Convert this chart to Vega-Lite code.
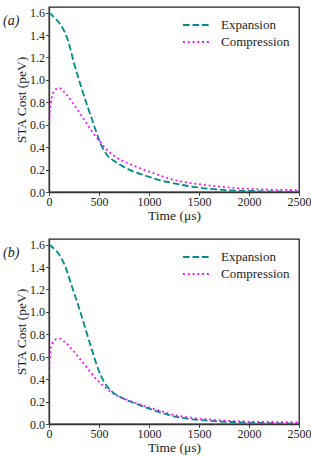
{
  "$schema": "https://vega.github.io/schema/vega-lite/v6.json",
  "padding": {"left": 2, "top": 5, "right": 1, "bottom": 2},
  "autosize": {"type": "pad"},
  "config": {
    "font": "Liberation Serif",
    "view": {"stroke": "#222", "strokeWidth": 1.3},
    "axis": {"grid": false, "domainColor": "#333", "domainWidth": 1.3, "tickColor": "#333", "tickSize": 3.5, "tickWidth": 0.9, "labelFont": "Liberation Serif", "labelFontSize": 12, "labelColor": "#222", "titleFont": "Liberation Serif", "titleFontSize": 13.5, "titleFontWeight": "normal", "titleColor": "#222", "labelPadding": 1, "labelFlush": false, "titlePadding": 1},
    "legend": {"orient": "top-right", "offset": 9, "padding": 0, "symbolType": "M-2,0H2", "symbolSize": 196, "symbolStrokeWidth": 1.8, "labelFont": "Liberation Serif", "labelFontSize": 13, "labelColor": "#222", "labelOffset": 16, "rowPadding": 2, "titleFontSize": 1, "titlePadding": 0}
  },
  "datasets": {
    "d": [
      {"panel": "a", "series": "Expansion", "t": 0, "v": 1.6},
      {"panel": "a", "series": "Expansion", "t": 50, "v": 1.56},
      {"panel": "a", "series": "Expansion", "t": 117, "v": 1.49},
      {"panel": "a", "series": "Expansion", "t": 183, "v": 1.37},
      {"panel": "a", "series": "Expansion", "t": 250, "v": 1.15},
      {"panel": "a", "series": "Expansion", "t": 317, "v": 0.95},
      {"panel": "a", "series": "Expansion", "t": 383, "v": 0.77},
      {"panel": "a", "series": "Expansion", "t": 450, "v": 0.595},
      {"panel": "a", "series": "Expansion", "t": 517, "v": 0.43},
      {"panel": "a", "series": "Expansion", "t": 583, "v": 0.327},
      {"panel": "a", "series": "Expansion", "t": 667, "v": 0.268},
      {"panel": "a", "series": "Expansion", "t": 800, "v": 0.2},
      {"panel": "a", "series": "Expansion", "t": 967, "v": 0.145},
      {"panel": "a", "series": "Expansion", "t": 1133, "v": 0.1},
      {"panel": "a", "series": "Expansion", "t": 1217, "v": 0.084},
      {"panel": "a", "series": "Expansion", "t": 1417, "v": 0.05},
      {"panel": "a", "series": "Expansion", "t": 1617, "v": 0.027},
      {"panel": "a", "series": "Expansion", "t": 1817, "v": 0.015},
      {"panel": "a", "series": "Expansion", "t": 2017, "v": 0.009},
      {"panel": "a", "series": "Expansion", "t": 2250, "v": 0.005},
      {"panel": "a", "series": "Expansion", "t": 2500, "v": 0.003},
      {"panel": "a", "series": "Compression", "t": 0, "v": 0.58},
      {"panel": "a", "series": "Compression", "t": 10, "v": 0.72},
      {"panel": "a", "series": "Compression", "t": 25, "v": 0.83},
      {"panel": "a", "series": "Compression", "t": 60, "v": 0.91},
      {"panel": "a", "series": "Compression", "t": 100, "v": 0.928},
      {"panel": "a", "series": "Compression", "t": 167, "v": 0.877},
      {"panel": "a", "series": "Compression", "t": 233, "v": 0.8},
      {"panel": "a", "series": "Compression", "t": 300, "v": 0.714},
      {"panel": "a", "series": "Compression", "t": 367, "v": 0.625},
      {"panel": "a", "series": "Compression", "t": 433, "v": 0.535},
      {"panel": "a", "series": "Compression", "t": 500, "v": 0.46},
      {"panel": "a", "series": "Compression", "t": 567, "v": 0.387},
      {"panel": "a", "series": "Compression", "t": 667, "v": 0.312},
      {"panel": "a", "series": "Compression", "t": 800, "v": 0.253},
      {"panel": "a", "series": "Compression", "t": 967, "v": 0.193},
      {"panel": "a", "series": "Compression", "t": 1133, "v": 0.14},
      {"panel": "a", "series": "Compression", "t": 1217, "v": 0.115},
      {"panel": "a", "series": "Compression", "t": 1417, "v": 0.08},
      {"panel": "a", "series": "Compression", "t": 1617, "v": 0.057},
      {"panel": "a", "series": "Compression", "t": 1817, "v": 0.039},
      {"panel": "a", "series": "Compression", "t": 2017, "v": 0.027},
      {"panel": "a", "series": "Compression", "t": 2217, "v": 0.021},
      {"panel": "a", "series": "Compression", "t": 2500, "v": 0.017},
      {"panel": "b", "series": "Expansion", "t": 0, "v": 1.6},
      {"panel": "b", "series": "Expansion", "t": 50, "v": 1.565},
      {"panel": "b", "series": "Expansion", "t": 100, "v": 1.514},
      {"panel": "b", "series": "Expansion", "t": 167, "v": 1.395},
      {"panel": "b", "series": "Expansion", "t": 233, "v": 1.216},
      {"panel": "b", "series": "Expansion", "t": 300, "v": 1.037},
      {"panel": "b", "series": "Expansion", "t": 367, "v": 0.843},
      {"panel": "b", "series": "Expansion", "t": 433, "v": 0.65},
      {"panel": "b", "series": "Expansion", "t": 500, "v": 0.471},
      {"panel": "b", "series": "Expansion", "t": 567, "v": 0.352},
      {"panel": "b", "series": "Expansion", "t": 633, "v": 0.286},
      {"panel": "b", "series": "Expansion", "t": 733, "v": 0.232},
      {"panel": "b", "series": "Expansion", "t": 867, "v": 0.182},
      {"panel": "b", "series": "Expansion", "t": 1000, "v": 0.137},
      {"panel": "b", "series": "Expansion", "t": 1133, "v": 0.098},
      {"panel": "b", "series": "Expansion", "t": 1217, "v": 0.075},
      {"panel": "b", "series": "Expansion", "t": 1417, "v": 0.045},
      {"panel": "b", "series": "Expansion", "t": 1617, "v": 0.027},
      {"panel": "b", "series": "Expansion", "t": 1817, "v": 0.018},
      {"panel": "b", "series": "Expansion", "t": 2017, "v": 0.012},
      {"panel": "b", "series": "Expansion", "t": 2250, "v": 0.007},
      {"panel": "b", "series": "Expansion", "t": 2500, "v": 0.004},
      {"panel": "b", "series": "Compression", "t": 0, "v": 0.46},
      {"panel": "b", "series": "Compression", "t": 10, "v": 0.6},
      {"panel": "b", "series": "Compression", "t": 30, "v": 0.715},
      {"panel": "b", "series": "Compression", "t": 60, "v": 0.75},
      {"panel": "b", "series": "Compression", "t": 100, "v": 0.763},
      {"panel": "b", "series": "Compression", "t": 167, "v": 0.724},
      {"panel": "b", "series": "Compression", "t": 233, "v": 0.665},
      {"panel": "b", "series": "Compression", "t": 300, "v": 0.59},
      {"panel": "b", "series": "Compression", "t": 367, "v": 0.516},
      {"panel": "b", "series": "Compression", "t": 433, "v": 0.441},
      {"panel": "b", "series": "Compression", "t": 500, "v": 0.375},
      {"panel": "b", "series": "Compression", "t": 567, "v": 0.322},
      {"panel": "b", "series": "Compression", "t": 633, "v": 0.277},
      {"panel": "b", "series": "Compression", "t": 733, "v": 0.232},
      {"panel": "b", "series": "Compression", "t": 867, "v": 0.188},
      {"panel": "b", "series": "Compression", "t": 1000, "v": 0.148},
      {"panel": "b", "series": "Compression", "t": 1133, "v": 0.113},
      {"panel": "b", "series": "Compression", "t": 1217, "v": 0.088},
      {"panel": "b", "series": "Compression", "t": 1417, "v": 0.057},
      {"panel": "b", "series": "Compression", "t": 1617, "v": 0.039},
      {"panel": "b", "series": "Compression", "t": 1817, "v": 0.027},
      {"panel": "b", "series": "Compression", "t": 2017, "v": 0.021},
      {"panel": "b", "series": "Compression", "t": 2217, "v": 0.018},
      {"panel": "b", "series": "Compression", "t": 2500, "v": 0.015}
    ]
  },
  "spacing": 14,
  "resolve": {"legend": {"color": "independent", "strokeDash": "independent"}},
  "vconcat": [
    {
      "width": 250,
      "height": 185,
      "title": {"text": "(a)", "anchor": "start", "frame": "group", "orient": "top", "offset": -32, "dx": -46, "baseline": "alphabetic", "fontSize": 14, "fontStyle": "italic", "fontWeight": "normal", "font": "Liberation Serif", "color": "#222"},
      "data": {"name": "d"},
      "transform": [{"filter": "datum.panel === 'a'"}],
      "mark": {"type": "line", "strokeWidth": 1.8, "interpolate": "monotone", "clip": true},
      "encoding": {
        "x": {"field": "t", "type": "quantitative", "scale": {"domain": [0, 2500], "nice": false}, "axis": {"values": [0, 500, 1000, 1500, 2000, 2500], "format": "d", "title": "Time (μs)"}},
        "y": {"field": "v", "type": "quantitative", "scale": {"domain": [0, 1.65], "nice": false}, "axis": {"values": [0, 0.2, 0.4, 0.6, 0.8, 1.0, 1.2, 1.4, 1.6], "format": ".1f", "title": "STA Cost (peV)"}},
        "color": {"field": "series", "type": "nominal", "scale": {"domain": ["Expansion", "Compression"], "range": ["#008B8B", "#FF00FF"]}, "legend": {"title": " "}},
        "strokeDash": {"field": "series", "type": "nominal", "scale": {"domain": ["Expansion", "Compression"], "range": [[6.6, 2.9], [1.8, 3]]}, "legend": {"title": " "}}
      }
    },
    {
      "width": 250,
      "height": 185,
      "title": {"text": "(b)", "anchor": "start", "frame": "group", "orient": "top", "offset": -32, "dx": -46, "baseline": "alphabetic", "fontSize": 14, "fontStyle": "italic", "fontWeight": "normal", "font": "Liberation Serif", "color": "#222"},
      "data": {"name": "d"},
      "transform": [{"filter": "datum.panel === 'b'"}],
      "mark": {"type": "line", "strokeWidth": 1.8, "interpolate": "monotone", "clip": true},
      "encoding": {
        "x": {"field": "t", "type": "quantitative", "scale": {"domain": [0, 2500], "nice": false}, "axis": {"values": [0, 500, 1000, 1500, 2000, 2500], "format": "d", "title": "Time (μs)"}},
        "y": {"field": "v", "type": "quantitative", "scale": {"domain": [0, 1.65], "nice": false}, "axis": {"values": [0, 0.2, 0.4, 0.6, 0.8, 1.0, 1.2, 1.4, 1.6], "format": ".1f", "title": "STA Cost (peV)"}},
        "color": {"field": "series", "type": "nominal", "scale": {"domain": ["Expansion", "Compression"], "range": ["#008B8B", "#FF00FF"]}, "legend": {"title": " "}},
        "strokeDash": {"field": "series", "type": "nominal", "scale": {"domain": ["Expansion", "Compression"], "range": [[6.6, 2.9], [1.8, 3]]}, "legend": {"title": " "}}
      }
    }
  ]
}
